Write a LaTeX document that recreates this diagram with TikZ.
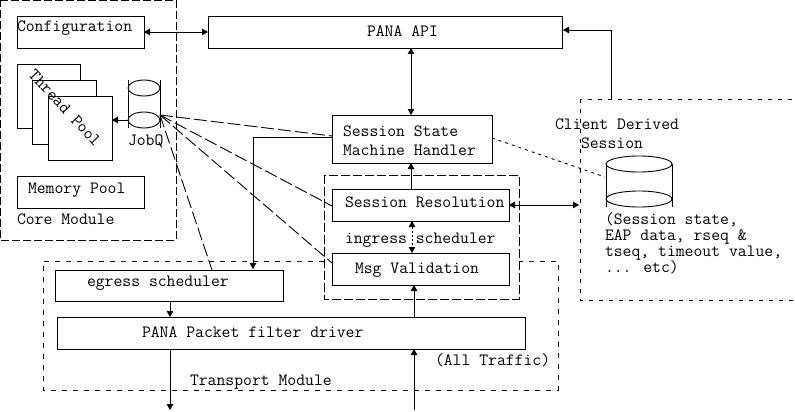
\documentclass[tikz,border=0pt]{standalone}
\usepackage{fontspec}
\usetikzlibrary{arrows.meta,shapes.geometric}
\tikzset{
  x=1pt,y=-1pt,
  every node/.style={inner sep=0pt,outer sep=0pt},
  every path/.style={line width=0.9pt},
  tiph/.tip={Triangle[length=6pt,width=6.5pt]},
  boxn/.style={draw,rectangle,anchor=north west},
  txt/.style={anchor=base west,font=\fontsize{17.2}{17.2}\selectfont\ttfamily},
  flow/.style={-tiph},
  both/.style={tiph-tiph},
  coremod/.style={dash pattern=on 8pt off 3pt},
  ingmod/.style={dash pattern=on 9pt off 3pt},
  transmod/.style={dash pattern=on 5pt off 6pt},
  clientmod/.style={dash pattern=on 4pt off 6pt},
  fan/.style={dash pattern=on 13pt off 4pt},
  dots/.style={dash pattern=on 3pt off 4pt},
}
\newcommand{\rbox}[5]{\node[boxn,minimum width=#4-#2,minimum height=#5-#3] (#1) at (#2,#3) {};}
\begin{document}
\begin{tikzpicture}
\useasboundingbox (0,0) rectangle (795,412);
% module frames
\draw[coremod] (0,0) -- (176,0) -- (176,240) -- (0,240) -- cycle;
\draw[transmod] (324,261) -- (43,261) -- (43,390) -- (558,390) -- (558,261) -- (519,261);
\draw[ingmod] (324,175) rectangle (519,299);
\draw[clientmod] (580,99) rectangle (795,300);
% boxes
\rbox{config}{17}{16}{144}{48}
\rbox{api}{208}{16}{562}{48}
\node[boxn,fill=white,minimum width=63,minimum height=64] (tp1) at (17,64) {};
\node[boxn,fill=white,minimum width=64,minimum height=64] (tp2) at (32,80) {};
\node[boxn,fill=white,minimum width=64,minimum height=64] (tp3) at (48,96) {};
\rbox{mem}{17}{176}{144}{208}
\rbox{ssm}{332}{115}{492}{163}
\rbox{sres}{332}{189}{509}{221}
\rbox{msgv}{332}{253}{509}{285}
\rbox{egress}{55}{270}{283}{301}
\rbox{filter}{57}{317}{525}{349}
% cylinders
\draw (128,80) -- (128,128) (160,80) -- (160,128);
\node[draw,ellipse,minimum width=32,minimum height=16] (jobtop) at (144,88) {};
\node[draw,ellipse,minimum width=32,minimum height=16] (jobq) at (144,120) {};
\draw (606,164) -- (606,207) (672,164) -- (672,207);
\node[draw,ellipse,minimum width=66,minimum height=16] (dbtop) at (639,164) {};
\node[draw,ellipse,minimum width=66,minimum height=16] (db) at (639,199) {};
% free ends
\coordinate (apiin) at (563,30);
\coordinate (clup) at (611,99);
\coordinate (clcorner) at (611,30);
\coordinate (clleft) at (579,205);
\coordinate (outb) at (170,410);
\coordinate (inb) at (414,410);
\coordinate (fan) at (160,115);
% connectors
\draw[both] (config.east) -- (api.west);
\draw[both] (api.south -| 411,0) -- (ssm.north -| 411,0);
\draw[flow] (clup) -- (clcorner) -- (apiin);
\draw[flow] (jobq.west) -- (tp3.east |- jobq.west);
\draw[flow] (sres.north -| 411,0) -- (ssm.south -| 411,0);
\draw[both,dash pattern=on 2pt off 2pt] (sres.south -| 412,0) -- (msgv.north -| 412,0);
\draw[flow] (filter.north -| 414,0) -- (msgv.south -| 414,0);
\draw[both] (sres.east |- 0,205) -- (clleft);
\draw[flow] (ssm.west |- 0,137) -- (253,137) -- (253,269);
\draw[flow] (egress.south -| 170,0) -- (filter.north -| 170,0);
\draw[flow] (filter.south -| 170,0) -- (outb);
\draw[flow] (inb) -- (filter.south -| 414,0);
\draw[fan] (fan) -- (ssm.west |- 0,136);
\draw[fan] (fan) -- (sres.west |- 0,206);
\draw[fan] (fan) -- (msgv.west |- 0,263);
\draw[fan] (fan) -- (212,270);
\draw[dots] (ssm.east |- 0,138) -- (605,177);
% labels
\node[txt] (t1) at (17,32) {Configuration};
\node[txt] (t2) at (367,37) {PANA API};
\node[txt,anchor=center,rotate=-47] (t3) at (65,108) {Thread Pool};
\node[txt] (t4) at (128,145) {JobQ};
\node[txt] (t5) at (28,193) {Memory Pool};
\node[txt] (t6) at (17,224) {Core Module};
\node[txt] (t7) at (343,136) {Session State};
\node[txt] (t8) at (343,155) {Machine Handler};
\node[txt] (t9) at (345,207) {Session Resolution};
\node[txt] (t10) at (345,243) {ingress scheduler};
\node[txt] (t11) at (355,273) {Msg Validation};
\node[txt] (t12) at (555,129) {Client Derived};
\node[txt] (t13) at (581,148) {Session};
\node[txt] (t14) at (605,224) {(Session state,};
\node[txt] (t15) at (605,240) {EAP data, rseq \&};
\node[txt] (t16) at (605,256) {tseq, timeout value,};
\node[txt] (t17) at (605,272) {... etc)};
\node[txt] (t18) at (87,286) {egress scheduler};
\node[txt] (t19) at (142,337) {PANA Packet filter driver};
\node[txt] (t20) at (435,365) {(All Traffic)};
\node[txt] (t21) at (190,385) {Transport Module};
\end{tikzpicture}
\end{document}
